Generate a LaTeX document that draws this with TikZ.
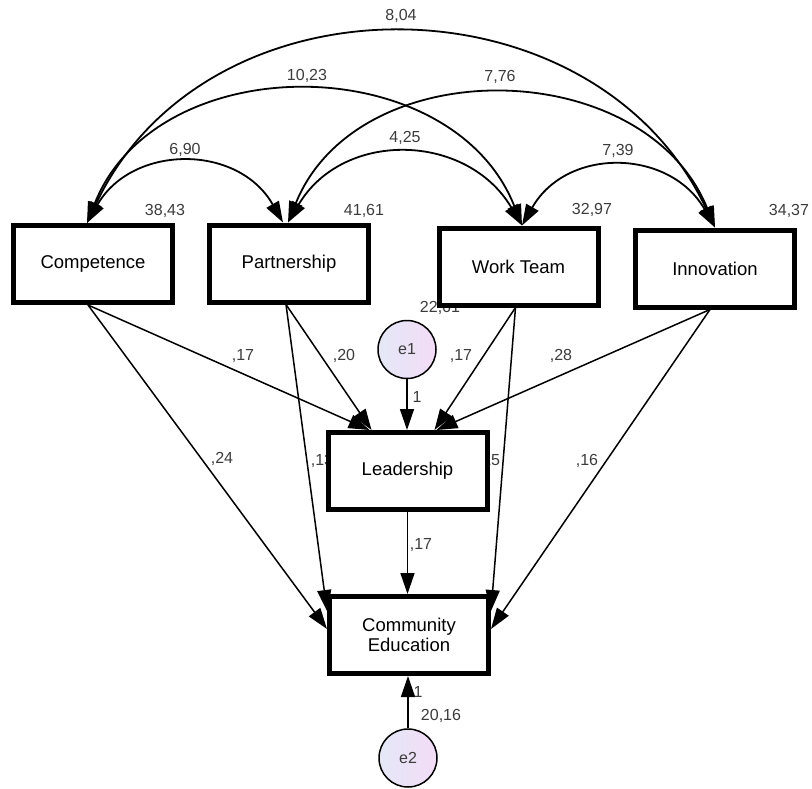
\documentclass[tikz,border=0pt]{standalone}
\usepackage{fontspec}
\setmainfont{Liberation Sans}
\usetikzlibrary{arrows.meta}
\definecolor{numgray}{RGB}{60,60,60}
\definecolor{eleft}{RGB}{228,232,247}
\definecolor{eright}{RGB}{243,220,246}
\tikzset{
 varbox/.style={draw, line width=5pt, fill=white, minimum width=159pt, minimum height=77pt, inner sep=0pt, font=\fontsize{18.5}{20}\selectfont, align=center},
 errc/.style={circle, draw, line width=1.5pt, minimum size=58pt, inner sep=0pt, left color=eleft, right color=eright, font=\fontsize{16}{18}\selectfont, text=numgray},
 num/.style={inner sep=0pt, font=\fontsize{16}{18}\selectfont, text=numgray},
 cov/.style={line width=1.8pt, {Triangle[length=21pt,width=14pt]}-{Triangle[length=21pt,width=14pt]}},
 reg/.style={line width=1.5pt, -{Triangle[length=21pt,width=14pt]}},
}
\begin{document}
\begin{tikzpicture}[x=1pt,y=-1pt]
\useasboundingbox (0,0) rectangle (812,788);
% labels partly hidden behind boxes
\node[num] (v61) at (440,308) {22,61};
\node[num] (w13) at (322,461) {,13};
\node[num] (w15) at (489,461) {,15};
% boxes
\node[varbox] (comp) at (93,264) {Competence};
\node[varbox] (part) at (289,263.5) {Partnership};
\node[varbox] (wt) at (518.5,266.5) {Work Team};
\node[varbox] (inn) at (715,268.5) {Innovation};
\node[varbox] (lead) at (407.5,471) {Leadership};
\node[varbox] (comm) at (409,635) {Community\\Education};
\node[errc] (e1) at (407,349.5) {e1};
\node[errc] (e2) at (408,758) {e2};
% arc end points
\coordinate (compT) at ([xshift=-6pt]comp.north);
\coordinate (partTa) at ([xshift=-6pt]part.north);
\coordinate (partTb) at ([xshift=-1pt]part.north);
\coordinate (wtT) at ([xshift=3.5pt]wt.north);
\coordinate (innT) at (inn.north);
% covariances
\draw[cov] (compT) .. controls +(120,-255) and +(-120,-255) .. (innT);
\draw[cov] (compT) .. controls +(70,-177) and +(-70,-177) .. (wtT);
\draw[cov] (partTb) .. controls +(70,-173) and +(-70,-173) .. (innT);
\draw[cov] (compT) .. controls +(45,-79) and +(-45,-79) .. (partTa);
\draw[cov] (partTb) .. controls +(55,-93) and +(-55,-93) .. (wtT);
\draw[cov] (wtT) .. controls +(45,-79) and +(-45,-79) .. (innT);
% regression start points
\coordinate (compB) at ([xshift=-5pt]comp.south);
\coordinate (partB) at ([xshift=-3pt]part.south);
\coordinate (wtB) at ([xshift=-3pt]wt.south);
\coordinate (innB) at ([xshift=-5pt]inn.south);
% regressions
\draw[reg] (compB) -- ([xshift=-38pt]lead.north);
\draw[reg] (partB) -- ([xshift=-36pt]lead.north);
\draw[reg] (wtB) -- ([xshift=27pt]lead.north);
\draw[reg] (innB) -- ([xshift=29pt]lead.north);
\draw[reg] (compB) -- ([yshift=6pt]comm.west);
\draw[reg] (partB) -- ([yshift=24pt]comm.west);
\draw[reg] (wtB) -- ([yshift=24pt]comm.east);
\draw[reg] (innB) -- ([yshift=6pt]comm.east);
\draw[reg] (lead.south) -- (lead.south |- comm.north);
\draw[reg] (e1.south) -- (e1.south |- lead.north);
\draw[reg] (e2.north) -- (e2.north |- comm.south);
% numbers
\node[num] (c804) at (401,16) {8,04};
\node[num] (c1023) at (307,76) {10,23};
\node[num] (c776) at (500,77) {7,76};
\node[num] (c690) at (185,150) {6,90};
\node[num] (c425) at (405,138) {4,25};
\node[num] (c739) at (618,151) {7,39};
\node[num] (v3843) at (165,211) {38,43};
\node[num] (v4161) at (364,211) {41,61};
\node[num] (v3297) at (592,210) {32,97};
\node[num] (v3437) at (789,211) {34,37};
\node[num] (wcl) at (243,356) {,17};
\node[num] (wpl) at (344,356) {,20};
\node[num] (wwl) at (461,356) {,17};
\node[num] (wil) at (561,356) {,28};
\node[num] (wcc) at (222,459) {,24};
\node[num] (wic) at (587,461) {,16};
\node[num] (wlc) at (421,545) {,17};
\node[num] (one1) at (417,397) {1};
\node[num] (one2) at (418,692) {1};
\node[num] (v2016) at (441,716) {20,16};
\end{tikzpicture}
\end{document}
